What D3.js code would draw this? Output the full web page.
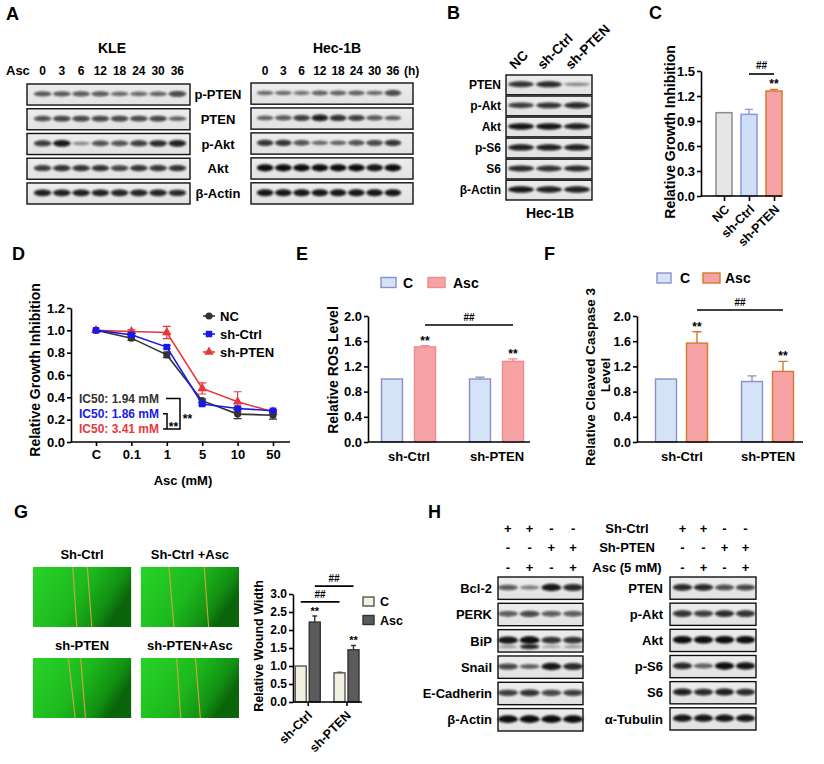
<!DOCTYPE html>
<html>
<head>
<meta charset="utf-8">
<script src="https://cdn.jsdelivr.net/npm/d3@7"></script>
<style>
  body { margin: 0; background: #fff; }
  svg { display: block; }
</style>
</head>
<body>
<svg id="fig" width="824" height="764"></svg>
<script>
// ---- data ----
var aTimes = ["0", "3", "6", "12", "18", "24", "30", "36"];
var aProteins = ["p-PTEN", "PTEN", "p-Akt", "Akt", "β-Actin"];
var aKleBands = [
  [0.55, 0.55, 0.6, 0.6, 0.45, 0.45, 0.5, 0.7],
  [0.65, 0.7, 0.7, 0.7, 0.7, 0.68, 0.7, 0.5],
  [0.75, 0.95, 0.3, 0.65, 0.65, 0.75, 0.85, 0.9],
  [0.75, 0.8, 0.8, 0.8, 0.72, 0.8, 0.78, 0.8],
  [0.9, 0.9, 0.9, 0.9, 0.88, 0.88, 0.88, 0.85]
];
var aHecBands = [
  [0.45, 0.45, 0.4, 0.5, 0.5, 0.5, 0.45, 0.7],
  [0.5, 0.6, 0.75, 0.9, 0.8, 0.75, 0.6, 0.5],
  [0.8, 0.8, 0.65, 0.45, 0.5, 0.65, 0.7, 0.8],
  [1, 1, 1, 1, 1, 1, 0.95, 1],
  [0.95, 0.95, 0.95, 0.95, 0.95, 0.95, 0.95, 0.95]
];

var bLanes = ["NC", "sh-Ctrl", "sh-PTEN"];
var bProteins = ["PTEN", "p-Akt", "Akt", "p-S6", "S6", "β-Actin"];
var bBands = [
  [0.8, 0.85, 0.3],
  [0.75, 0.8, 0.85],
  [0.95, 0.95, 0.9],
  [0.9, 0.9, 0.9],
  [0.85, 0.8, 0.85],
  [0.95, 0.9, 0.9]
];

var cGroups = ["NC", "sh-Ctrl", "sh-PTEN"];
var cValues = [1.0, 0.98, 1.26];
var cErrors = [0, 0.06, 0.02];
var cStars = ["", "", "**"];
var cTicks = [0, 0.3, 0.6, 0.9, 1.2, 1.5];
var cSig = ["sh-Ctrl", "sh-PTEN", 1.464, "##"];

var dDoses = ["C", "0.1", "1", "5", "10", "50"];
var dSeries = ["NC", "sh-Ctrl", "sh-PTEN"];
var dNC = [1.0, 0.93, 0.78, 0.37, 0.25, 0.24];
var dShCtrl = [1.0, 0.96, 0.85, 0.34, 0.30, 0.28];
var dShPTEN = [1.0, 0.99, 0.98, 0.48, 0.36, 0.27];
var dNCErr = [0, 0.02, 0.025, 0.015, 0.04, 0.035];
var dShCtrlErr = [0, 0.01, 0.015, 0.01, 0.01, 0.01];
var dShPTENErr = [0, 0.015, 0.055, 0.05, 0.09, 0.01];
var dTicks = [0, 0.2, 0.4, 0.6, 0.8, 1.0, 1.2];
var dIC50 = ["IC50: 1.94 mM", "IC50: 1.86 mM", "IC50: 3.41 mM"];

var eGroups = ["sh-Ctrl", "sh-PTEN"];
var eConds = ["C", "Asc"];
var eValues = [[1.0, 1.51], [1.0, 1.28]];
var eErrors = [[0, 0.02], [0.03, 0.04]];
var eSig = [1, 1.857, "##"];
var fValues = [[1.0, 1.57], [0.96, 1.12]];
var fErrors = [[0, 0.18], [0.09, 0.16]];
var fSig = [1, 2.095, "##"];
var efTicks = [0, 0.4, 0.8, 1.2, 1.6, 2.0];

var gImages = ["Sh-Ctrl", "Sh-Ctrl +Asc", "sh-PTEN", "sh-PTEN+Asc"];
var gWoundTop = [[0.405, 0.554], [0.286, 0.646], [0.361, 0.486], [0.365, 0.556]];
var gWoundBottom = [[0.446, 0.599], [0.337, 0.690], [0.429, 0.534], [0.406, 0.606]];
var gValues = [[1.0, 2.22], [0.81, 1.45]];
var gErrors = [[0, 0.17], [0.02, 0.12]];
var gTicks = [0, 0.5, 1.0, 1.5, 2.0, 2.5, 3.0];
var gSigs = [[0, 2.78, "##"], [1, 3.22, "##"]];

var hTreatLabels = ["Sh-Ctrl", "Sh-PTEN", "Asc (5 mM)"];
var hTreat = [["+", "+", "-", "-"], ["-", "-", "+", "+"], ["-", "+", "-", "+"]];
var hLeftProteins = ["Bcl-2", "PERK", "BiP", "Snail", "E-Cadherin", "β-Actin"];
var hLeftBands = [
  [0.6, 0.35, 0.95, 0.85],
  [0.6, 0.7, 0.6, 0.6],
  [0.95, 1.0, 0.8, 0.8],
  [0.7, 0.5, 0.95, 0.85],
  [0.75, 0.8, 0.7, 0.75],
  [1, 1, 1, 1]
];
var hBipLower = [0.2, 0.85, 0.15, 0.2];
var hRightProteins = ["PTEN", "p-Akt", "Akt", "p-S6", "S6", "α-Tubulin"];
var hRightBands = [
  [0.85, 0.85, 0.65, 0.7],
  [0.8, 0.75, 0.85, 0.8],
  [1, 1, 1, 1],
  [0.85, 0.5, 1, 0.95],
  [0.9, 0.85, 0.9, 0.85],
  [0.95, 0.95, 0.95, 0.95]
];

// ---- setup ----
var FONT = "'Liberation Sans', Arial, Helvetica, sans-serif";
var svg = d3.select("#fig");
svg.append("rect").attr("width", 824).attr("height", 764).attr("fill", "#fff");

var defs = svg.append("defs");
defs.append("filter").attr("id", "blur")
  .attr("x", "-10%").attr("y", "-60%").attr("width", "120%").attr("height", "220%")
  .append("feGaussianBlur").attr("stdDeviation", "1.2 0.8");
var bg = defs.append("linearGradient").attr("id", "blotBg").attr("x1", 0).attr("y1", 0).attr("x2", 0).attr("y2", 1);
bg.append("stop").attr("offset", 0).attr("stop-color", "#ededed");
bg.append("stop").attr("offset", 1).attr("stop-color", "#e2e2e2");
var green = defs.append("linearGradient").attr("id", "cellGreen").attr("x1", 0).attr("y1", 0).attr("x2", 1).attr("y2", 0.4);
green.append("stop").attr("offset", 0).attr("stop-color", "#28d428");
green.append("stop").attr("offset", 0.55).attr("stop-color", "#1db91d");
green.append("stop").attr("offset", 0.85).attr("stop-color", "#129012");
green.append("stop").attr("offset", 1).attr("stop-color", "#0a640a");

function txt(g, x, y, s, size, anchor, color) {
  return g.append("text").attr("x", x).attr("y", y).text(s)
    .attr("font-family", FONT).attr("font-weight", "bold").attr("font-size", size)
    .attr("text-anchor", anchor || "start").attr("fill", color || "#000");
}

function styleAxis(ax, size) {
  ax.attr("font-family", FONT).attr("font-size", size).attr("font-weight", "bold");
  ax.selectAll(".domain, .tick line").attr("stroke", "#000").attr("stroke-width", 1.6);
  ax.selectAll("text").attr("fill", "#000");
}

function yTitle(g, x, y, s, size) {
  g.append("text").attr("transform", "translate(" + x + "," + y + ") rotate(-90)")
    .attr("dy", "0.35em").attr("text-anchor", "middle")
    .attr("font-family", FONT).attr("font-weight", "bold").attr("font-size", size).text(s);
}

function drawBlot(g, proteins, bands, laneX, rowY, x0, x1, labelX, anchor, size) {
  proteins.forEach(function(name, i) {
    var y0 = rowY(name), h = rowY.bandwidth();
    g.append("rect").attr("x", x0).attr("y", y0).attr("width", x1 - x0).attr("height", h)
      .attr("fill", "url(#blotBg)");
    g.append("g").attr("filter", "url(#blur)")
      .selectAll("ellipse").data(bands[i]).join("ellipse")
      .attr("cx", function(d, j) { return laneX(j) + laneX.bandwidth() / 2; })
      .attr("cy", y0 + h * 0.47)
      .attr("rx", laneX.bandwidth() * 0.46)
      .attr("ry", function(d) { return h * (0.06 + 0.11 * d); })
      .attr("fill", "#0a0a0a")
      .attr("fill-opacity", function(d) { return 0.15 + 0.85 * d; });
    g.append("rect").attr("x", x0).attr("y", y0).attr("width", x1 - x0).attr("height", h)
      .attr("fill", "none").attr("stroke", "#111").attr("stroke-width", 1.4);
    if (labelX !== null) txt(g, labelX, y0 + h / 2, name, size, anchor).attr("dy", "0.36em");
  });
}

function errBar(g, x, yTop, yVal, half, color) {
  g.append("path").attr("d", "M" + x + "," + yVal + "V" + yTop + "M" + (x - half) + "," + yTop + "H" + (x + half))
    .attr("stroke", color).attr("stroke-width", 1.4).attr("fill", "none");
}

// ---- panel letters ----
[["A", 6, 20], ["B", 447, 19], ["C", 649, 19], ["D", 12, 260], ["E", 296, 260],
 ["F", 544, 260], ["G", 14, 518], ["H", 428, 518]].forEach(function(p) {
  txt(svg, p[1], p[2], p[0], 18);
});

// ---- A ----
var gA = svg.append("g");
txt(gA, 112, 53, "KLE", 14, "middle");
txt(gA, 337, 53, "Hec-1B", 14, "middle");
txt(gA, 6, 75, "Asc", 13);
var aKleX = d3.scaleBand().domain(d3.range(aTimes.length)).range([33, 187]);
var aHecX = d3.scaleBand().domain(d3.range(aTimes.length)).range([256, 402]);
aTimes.forEach(function(t, i) {
  txt(gA, aKleX(i) + aKleX.bandwidth() / 2, 75, t, 12, "middle");
  txt(gA, aHecX(i) + aHecX.bandwidth() / 2, 75, t, 12, "middle");
});
txt(gA, 404, 75, "(h)", 12);
var aRowL = d3.scaleBand().domain(aProteins).range([84, 204]).paddingInner(0.15);
var aRowR = d3.scaleBand().domain(aProteins).range([83, 204]).paddingInner(0.15);
drawBlot(gA, aProteins, aKleBands, aKleX, aRowL, 27, 190, 218, "middle", 13);
drawBlot(gA, aProteins, aHecBands, aHecX, aRowR, 251, 413, null, "middle", 13);

// ---- B ----
var gB = svg.append("g");
var bX = d3.scaleBand().domain(d3.range(bLanes.length)).range([507, 591]);
var bRow = d3.scaleBand().domain(bProteins).range([75, 200]).paddingInner(0.06);
drawBlot(gB, bProteins, bBands, bX, bRow, 506, 592, 501, "end", 12);
bLanes.forEach(function(l, i) {
  gB.append("text").attr("transform", "translate(" + (bX(i) + bX.bandwidth() / 2 - 6) + ",70) rotate(-45)")
    .attr("font-family", FONT).attr("font-weight", "bold").attr("font-size", 13.5).text(l);
});
txt(gB, 550, 218, "Hec-1B", 14, "middle");

// ---- C ----
var gC = svg.append("g");
var cY = d3.scaleLinear().domain([0, 1.5]).range([196, 71]);
var cX = d3.scalePoint().domain(cGroups).range([724, 774]);
var cFill = ["#e6e6e6", "#cfdff7", "#f7a3a6"];
var cStroke = ["#8c8c8c", "#8e94d8", "#d9782e"];
gC.selectAll("rect.bar").data(cGroups).join("rect")
  .attr("x", function(d) { return cX(d) - 8; }).attr("width", 16)
  .attr("y", function(d, i) { return cY(cValues[i]); })
  .attr("height", function(d, i) { return cY(0) - cY(cValues[i]); })
  .attr("fill", function(d, i) { return cFill[i]; })
  .attr("stroke", function(d, i) { return cStroke[i]; }).attr("stroke-width", 1.5);
cGroups.forEach(function(gname, i) {
  if (cErrors[i]) errBar(gC, cX(gname), cY(cValues[i] + cErrors[i]), cY(cValues[i]), 4, cStroke[i]);
  if (cStars[i]) txt(gC, cX(gname), cY(cValues[i] + cErrors[i]) - 1, cStars[i], 12, "middle");
});
gC.append("path").attr("d", "M" + cX(cSig[0]) + "," + cY(cSig[2]) + "H" + cX(cSig[1]))
  .attr("stroke", "#000").attr("stroke-width", 1.6);
txt(gC, (cX(cSig[0]) + cX(cSig[1])) / 2, cY(cSig[2]) - 5, cSig[3], 10, "middle");
var axCY = gC.append("g").attr("transform", "translate(701,0)")
  .call(d3.axisLeft(cY).tickValues(cTicks).tickFormat(d3.format(".1f")).tickSize(4).tickPadding(2).tickSizeOuter(0));
styleAxis(axCY, 13);
var axCX = gC.append("g").attr("transform", "translate(0,196)")
  .call(d3.axisBottom(cX).tickSize(5).tickSizeOuter(0).tickFormat(""));
styleAxis(axCX, 12);
axCX.select(".domain").attr("d", "M701,0H782");
cGroups.forEach(function(gname) {
  gC.append("text").attr("transform", "translate(" + (cX(gname) + 3) + ",207) rotate(-45)")
    .attr("dy", "0.35em").attr("text-anchor", "end")
    .attr("font-family", FONT).attr("font-weight", "bold").attr("font-size", 12.5).text(gname);
});
yTitle(gC, 670, 132, "Relative Growth Inhibition", 14);

// ---- D ----
var gD = svg.append("g");
var dX = d3.scalePoint().domain(dDoses).range([96, 273]);
var dY = d3.scaleLinear().domain([0, 1.2]).range([442, 308]);
var dVals = [dNC, dShCtrl, dShPTEN];
var dErrs = [dNCErr, dShCtrlErr, dShPTENErr];
var dColors = ["#333333", "#1a1ae6", "#e8383d"];
var dSymbols = [d3.symbolCircle, d3.symbolSquare, d3.symbolTriangle];
var dSizes = [40, 42, 40];
[2, 0, 1].forEach(function(s) {
  var col = dColors[s];
  gD.append("path").datum(dVals[s])
    .attr("d", d3.line().x(function(v, i) { return dX(dDoses[i]); }).y(function(v) { return dY(v); }))
    .attr("fill", "none").attr("stroke", col).attr("stroke-width", 1.6);
  dVals[s].forEach(function(v, i) {
    var e = dErrs[s][i];
    if (!e) return;
    var x = dX(dDoses[i]);
    gD.append("path")
      .attr("d", "M" + x + "," + dY(v - e) + "V" + dY(v + e) + "M" + (x - 4) + "," + dY(v + e) + "H" + (x + 4) +
        "M" + (x - 4) + "," + dY(v - e) + "H" + (x + 4))
      .attr("stroke", col).attr("stroke-width", 1.2).attr("fill", "none");
  });
  gD.selectAll(null).data(dVals[s]).join("path")
    .attr("transform", function(v, i) { return "translate(" + dX(dDoses[i]) + "," + dY(v) + ")"; })
    .attr("d", d3.symbol().type(dSymbols[s]).size(dSizes[s]))
    .attr("fill", col);
});
var axDY = gD.append("g").attr("transform", "translate(71,0)")
  .call(d3.axisLeft(dY).tickValues(dTicks).tickFormat(d3.format(".1f")).tickSize(4).tickPadding(2).tickSizeOuter(0));
styleAxis(axDY, 13);
var axDX = gD.append("g").attr("transform", "translate(0,442)")
  .call(d3.axisBottom(dX).tickSize(4).tickPadding(4).tickSizeOuter(0));
styleAxis(axDX, 13);
axDX.select(".domain").attr("d", "M71,0H290");
txt(gD, 183, 485, "Asc (mM)", 13, "middle");
yTitle(gD, 35, 370, "Relative Growth Inhibition", 14);
var dLegY = d3.scalePoint().domain(dSeries).range([316, 352]);
dSeries.forEach(function(name, s) {
  var y = dLegY(name);
  gD.append("path").attr("d", "M203," + y + "H215").attr("stroke", dColors[s]).attr("stroke-width", 1.6);
  gD.append("path").attr("transform", "translate(209," + y + ")")
    .attr("d", d3.symbol().type(dSymbols[s]).size(dSizes[s])).attr("fill", dColors[s]);
  txt(gD, 220, y, name, 13).attr("dy", "0.36em");
});
var icY = d3.scalePoint().domain(dIC50).range([398.5, 429]);
dIC50.forEach(function(s, i) {
  txt(gD, 79, icY(s), s, 12, "start", dColors[i]).attr("dy", "0.36em");
});
gD.append("path")
  .attr("d", "M166," + icY(dIC50[0]) + "H180V" + icY(dIC50[2]) + "H163M163," + icY(dIC50[1]) + "H167V" + icY(dIC50[2]))
  .attr("stroke", "#000").attr("stroke-width", 1.5).attr("fill", "none");
txt(gD, 173.5, icY(dIC50[2]) + 2, "**", 12, "middle");
txt(gD, 187.5, icY(dIC50[1]) + 9, "**", 12, "middle");

// ---- grouped bar charts (E, F, G) ----
function groupedBars(g, opt) {
  var y = d3.scaleLinear().domain(opt.domain).range(opt.yRange);
  var x = d3.scalePoint().domain(eGroups).range(opt.xRange);
  var sub = d3.scaleBand().domain(eConds).range([-opt.subHalf, opt.subHalf]).paddingInner(opt.pad);
  var bw = sub.bandwidth();
  eGroups.forEach(function(gname, gi) {
    eConds.forEach(function(c, ci) {
      var v = opt.values[gi][ci], e = opt.errors[gi][ci];
      var x0 = x(gname) + sub(c);
      g.append("rect").attr("x", x0).attr("width", bw)
        .attr("y", y(v)).attr("height", y(0) - y(v))
        .attr("fill", opt.fill[ci]).attr("stroke", opt.stroke[ci]).attr("stroke-width", 1.4);
      if (e) errBar(g, x0 + bw / 2, y(v + e), y(v), bw * 0.22, opt.stroke[ci]);
      if (ci === 1) txt(g, x0 + bw / 2, y(v + e) - 1, "**", opt.starSize, "middle");
    });
  });
  opt.sigs.forEach(function(sg) {
    var c = eConds[sg[0]];
    var xa = x(eGroups[0]) + sub(c) + bw / 2, xb = x(eGroups[1]) + sub(c) + bw / 2;
    g.append("path").attr("d", "M" + xa + "," + y(sg[1]) + "H" + xb).attr("stroke", "#000").attr("stroke-width", 1.6);
    txt(g, (xa + xb) / 2, y(sg[1]) - 4, sg[2], opt.sigSize, "middle");
  });
  var axY = g.append("g").attr("transform", "translate(" + opt.axisX + ",0)")
    .call(d3.axisLeft(y).tickValues(opt.ticks).tickFormat(d3.format(".1f")).tickSize(4).tickPadding(2).tickSizeOuter(0));
  styleAxis(axY, opt.tickSize);
  var axX = g.append("g").attr("transform", "translate(0," + opt.yRange[0] + ")")
    .call(d3.axisBottom(x).tickSize(opt.xTick).tickPadding(opt.xPad).tickSizeOuter(0).tickFormat(opt.rotate ? "" : null));
  styleAxis(axX, opt.labelSize);
  axX.select(".domain").attr("d", "M" + opt.axisX + ",0H" + opt.axisEnd);
  if (opt.rotate) {
    eGroups.forEach(function(gname) {
      g.append("text").attr("transform", "translate(" + (x(gname) + 2) + "," + (opt.yRange[0] + 11) + ") rotate(-45)")
        .attr("dy", "0.35em").attr("text-anchor", "end")
        .attr("font-family", FONT).attr("font-weight", "bold").attr("font-size", opt.labelSize).text(gname);
    });
  }
}

function legendBox(g, x, y, w, h, fill, stroke, label, tx, size) {
  g.append("rect").attr("x", x).attr("y", y).attr("width", w).attr("height", h)
    .attr("fill", fill).attr("stroke", stroke).attr("stroke-width", 1.4);
  txt(g, tx, y + h / 2, label, size).attr("dy", "0.36em");
}

var gE = svg.append("g");
groupedBars(gE, {
  domain: [0, 2], yRange: [442, 316], xRange: [408.5, 496.5], subHalf: 27, pad: 0.364,
  values: eValues, errors: eErrors, fill: ["#d5e3f7", "#f7a3a6"], stroke: ["#8c90c8", "#ef8a8e"],
  sigs: [eSig], ticks: efTicks, axisX: 368, axisEnd: 530, tickSize: 13, labelSize: 13,
  xTick: 0, xPad: 10, rotate: false, starSize: 12, sigSize: 10
});
yTitle(gE, 333, 370, "Relative ROS Level", 14);
legendBox(gE, 381, 277.5, 15, 10, "#d5e3f7", "#8c90c8", "C", 403, 14);
legendBox(gE, 428, 277.5, 17, 10, "#f7a3a6", "#ef8a8e", "Asc", 453, 14);

var gF = svg.append("g");
groupedBars(gF, {
  domain: [0, 2], yRange: [442, 316], xRange: [681.5, 767.5], subHalf: 26, pad: 0.3226,
  values: fValues, errors: fErrors, fill: ["#d5e3f7", "#f7a3a6"], stroke: ["#8c90c8", "#d8782a"],
  sigs: [fSig], ticks: efTicks, axisX: 637, axisEnd: 803, tickSize: 12.5, labelSize: 13,
  xTick: 0, xPad: 10, rotate: false, starSize: 12, sigSize: 10
});
yTitle(gF, 590, 377, "Relative Cleaved Caspase 3", 13.5);
yTitle(gF, 605, 375, "Level", 13.5);
legendBox(gF, 657, 273, 14, 10, "#d5e3f7", "#8c90c8", "C", 680, 14);
legendBox(gF, 703, 273, 17, 10, "#f7a3a6", "#d8782a", "Asc", 725, 14);

// ---- G ----
var gG = svg.append("g");
var imgCol = d3.scaleBand().domain([0, 1]).range([33, 239]).paddingInner(0.09);
var imgRow = d3.scaleBand().domain([0, 1]).range([567, 718]).paddingInner(0.341);
gImages.forEach(function(label, k) {
  var cx0 = imgCol(k % 2), cy0 = imgRow(Math.floor(k / 2));
  var w = imgCol.bandwidth(), h = imgRow.bandwidth();
  gG.append("rect").attr("x", cx0).attr("y", cy0).attr("width", w).attr("height", h).attr("fill", "url(#cellGreen)");
  var lx = d3.scaleLinear().domain([0, 1]).range([cx0, cx0 + w]);
  gWoundTop[k].forEach(function(t, j) {
    gG.append("line").attr("x1", lx(t)).attr("y1", cy0).attr("x2", lx(gWoundBottom[k][j])).attr("y2", cy0 + h)
      .attr("stroke", "#d4a640").attr("stroke-width", 1.1);
  });
  txt(gG, cx0 + w / 2, cy0 - 8, label, 13, "middle");
});
groupedBars(gG, {
  domain: [0, 3], yRange: [702, 594], xRange: [307.75, 346.5], subHalf: 12.5, pad: 0.214,
  values: gValues, errors: gErrors, fill: ["#f2f0de", "#5b5b5b"], stroke: ["#555555", "#333333"],
  sigs: gSigs, ticks: gTicks, axisX: 293, axisEnd: 362, tickSize: 12, labelSize: 12.5,
  xTick: 4, xPad: 2, rotate: true, starSize: 11, sigSize: 10
});
yTitle(gG, 259, 646, "Relative Wound Width", 12.5);
legendBox(gG, 363, 597, 11, 9, "#f2f0de", "#555555", "C", 380, 12.5);
legendBox(gG, 363, 615.5, 11, 9, "#5b5b5b", "#333333", "Asc", 380, 12.5);

// ---- H ----
var gH = svg.append("g");
var hLX = d3.scaleBand().domain(d3.range(4)).range([497, 584]);
var hRX = d3.scaleBand().domain(d3.range(4)).range([672, 756]);
var hTreatY = d3.scalePoint().domain(hTreatLabels).range([528, 567]);
hTreatLabels.forEach(function(label, r) {
  var y = hTreatY(label);
  txt(gH, 627, y, label, 13, "middle").attr("dy", "0.36em");
  hTreat[r].forEach(function(s, i) {
    txt(gH, hLX(i) + hLX.bandwidth() / 2, y, s, 13, "middle").attr("dy", "0.36em");
    txt(gH, hRX(i) + hRX.bandwidth() / 2, y, s, 13, "middle").attr("dy", "0.36em");
  });
});
var hRowL = d3.scaleBand().domain(hLeftProteins).range([577, 731]).paddingInner(0.15);
var hRowR = d3.scaleBand().domain(hRightProteins).range([577, 730]).paddingInner(0.15);
drawBlot(gH, hLeftProteins, hLeftBands, hLX, hRowL, 498, 583, 492, "end", 13);
drawBlot(gH, hRightProteins, hRightBands, hRX, hRowR, 670, 756, 663, "end", 13);
// BiP lower band of the doublet
gH.append("g").attr("filter", "url(#blur)")
  .selectAll("ellipse").data(hBipLower).join("ellipse")
  .attr("cx", function(d, j) { return hLX(j) + hLX.bandwidth() / 2; })
  .attr("cy", hRowL("BiP") + hRowL.bandwidth() * 0.76)
  .attr("rx", hLX.bandwidth() * 0.44)
  .attr("ry", function(d) { return 1 + 2 * d; })
  .attr("fill", "#0c0c0c").attr("fill-opacity", function(d) { return 0.2 + 0.8 * d; });
</script>
</body>
</html>
